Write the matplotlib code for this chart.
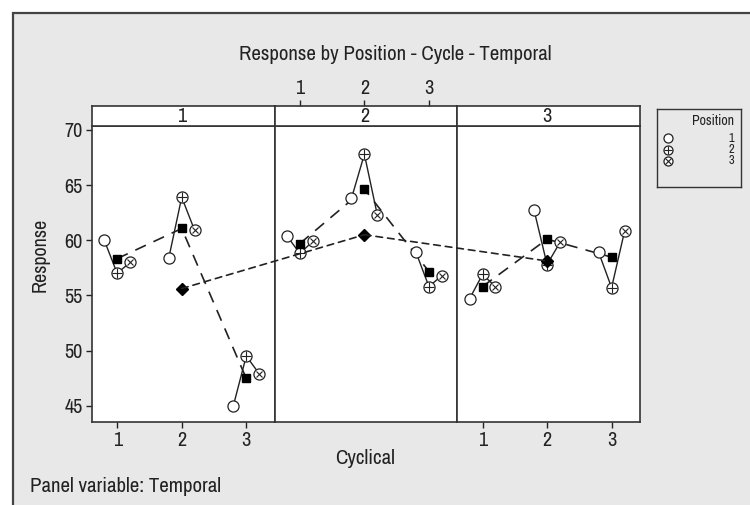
import matplotlib
matplotlib.use("Agg")
import matplotlib.pyplot as plt
from matplotlib.patches import Rectangle, ConnectionPatch
from matplotlib import font_manager as fm
import numpy as np

# pick a narrow sans face, like the one in the original chart
installed = set(f.name for f in fm.fontManager.ttflist)
narrow = [n for n in ['Liberation Sans Narrow', 'Arial Narrow', 'Archivo Narrow',
                      'PT Sans Narrow', 'Roboto Condensed', 'Pragati Narrow',
                      'Open Sans Condensed'] if n in installed]
plt.rcParams['font.family'] = narrow[:1] + ['DejaVu Sans']

# data: response by temporal panel -> cyclical level -> position 1,2,3
temporal = [1, 2, 3]
cyclical = [1, 2, 3]
positions = [1, 2, 3]
resp_t1 = [[60.0, 57.0, 58.0], [58.4, 63.9, 60.9], [45.0, 49.5, 47.9]]
resp_t2 = [[60.4, 58.8, 59.9], [63.8, 67.8, 62.3], [58.9, 55.8, 56.8]]
resp_t3 = [[54.7, 56.9, 55.8], [62.7, 57.8, 59.8], [58.9, 55.7, 60.8]]
responses = [resp_t1, resp_t2, resp_t3]
yticks = [45, 50, 55, 60, 65, 70]

BG = '#e8e8e8'
INK = '#222222'
FS = 14.5
pos_offset = [-0.2, 0.0, 0.2]


def draw_pos_marker(ax, x, y, pos, ms=8, z=4):
    ax.plot(x, y, 'o', ms=ms, mfc='white', mec=INK, mew=0.9, zorder=z)
    if pos == 2:
        ax.plot(x, y, '+', ms=ms * 0.85, mec=INK, mew=0.8, zorder=z + 1)
    elif pos == 3:
        ax.plot(x, y, 'x', ms=ms * 0.6, mec=INK, mew=0.8, zorder=z + 1)


fig = plt.figure(figsize=(7.5, 5.05), dpi=100)
fig.patch.set_facecolor('white')
fig.patches.append(Rectangle((13 / 750, -0.02), 1.1, 1 - 13 / 505 + 0.02,
                             transform=fig.transFigure, fc=BG, ec='#444444',
                             lw=1.6, zorder=-1))

L, R, B, T = 92 / 750, 640 / 750, 1 - 422 / 505, 1 - 126 / 505
pw = (R - L) / 3
strip_h = 20 / 505
xlim = (0.61, 3.44)
ylim = (43.52, 70.36)

axes = []
for i, t in enumerate(temporal):
    ax = fig.add_axes([L + i * pw, B, pw, T - B])
    ax.set_facecolor('white')
    ax.set_xlim(*xlim)
    ax.set_ylim(*ylim)
    for s in ax.spines.values():
        s.set_color('#333333')
        s.set_linewidth(1.2)
    data = responses[i]
    means = [np.mean(v) for v in data]
    for c, vals in zip(cyclical, data):
        xs = [c + o for o in pos_offset]
        ax.plot(xs, vals, '-', color=INK, lw=1.0, zorder=2)
        for p, x, y in zip(positions, xs, vals):
            draw_pos_marker(ax, x, y, p)
    ax.plot(cyclical, means, color=INK, lw=1.2, ls=(0, (7, 5)), zorder=3)
    ax.plot(cyclical, means, 's', ms=6, color='black', zorder=6)
    ax.plot(2, np.mean(means), 'D', ms=6, color='black', zorder=6)

    ax.tick_params(direction='out', length=4, width=1, color=INK,
                   labelsize=FS, labelcolor=INK, pad=2.5)
    if i == 0:
        ax.set_yticks(yticks)
    else:
        ax.set_yticks([])
    if i != 1:
        ax.set_xticks(cyclical)
    else:
        ax.set_xticks([])

    sax = fig.add_axes([L + i * pw, T, pw, strip_h])
    sax.set_facecolor('white')
    sax.set_xlim(*xlim)
    sax.set_ylim(0, 1)
    sax.set_yticks([])
    for s in sax.spines.values():
        s.set_color('#333333')
        s.set_linewidth(1.2)
    sax.text(2, 0.45, str(t), ha='center', va='center', fontsize=FS, color=INK)
    if i == 1:
        sax.xaxis.tick_top()
        sax.set_xticks(cyclical)
        sax.tick_params(direction='out', length=4, width=1, color=INK,
                        labelsize=FS, labelcolor=INK, pad=1.5)
    else:
        sax.set_xticks([])
    axes.append(ax)

# overall temporal means joined across panels
tmeans = [np.mean([np.mean(v) for v in d]) for d in responses]
for i in range(len(temporal) - 1):
    con = ConnectionPatch(xyA=(2, tmeans[i]), coordsA=axes[i].transData,
                          xyB=(2, tmeans[i + 1]), coordsB=axes[i + 1].transData,
                          color=INK, lw=1.2, linestyle=(0, (4, 3)))
    fig.add_artist(con)

fig.text(395 / 750, 1 - 55 / 505, 'Response by Position - Cycle - Temporal',
         ha='center', va='center', fontsize=15, color=INK)
fig.text(40 / 750, 1 - 255 / 505, 'Response', rotation=90, ha='center',
         va='center', fontsize=FS, color=INK)
fig.text(365 / 750, 1 - 458 / 505, 'Cyclical', ha='center', va='center',
         fontsize=15, color=INK)
fig.text(30 / 750, 1 - 487 / 505, 'Panel variable: Temporal', ha='left',
         va='center', fontsize=15, color=INK)

# legend box
lax = fig.add_axes([657 / 750, 1 - 187 / 505, 84 / 750, 78 / 505])
lax.set_facecolor(BG)
lax.set_xlim(0, 84)
lax.set_ylim(78, 0)
lax.set_xticks([])
lax.set_yticks([])
for s in lax.spines.values():
    s.set_color('#333333')
    s.set_linewidth(1.0)
lax.text(77, 12, 'Position', ha='right', va='center', fontsize=10, color=INK)
for k, p in enumerate(positions):
    yy = 29 + k * 11.5
    draw_pos_marker(lax, 11, yy, p, ms=6.5)
    lax.text(77, yy, str(p), ha='right', va='center', fontsize=9, color=INK)

fig.savefig('out.png', dpi=100, facecolor=fig.get_facecolor())
